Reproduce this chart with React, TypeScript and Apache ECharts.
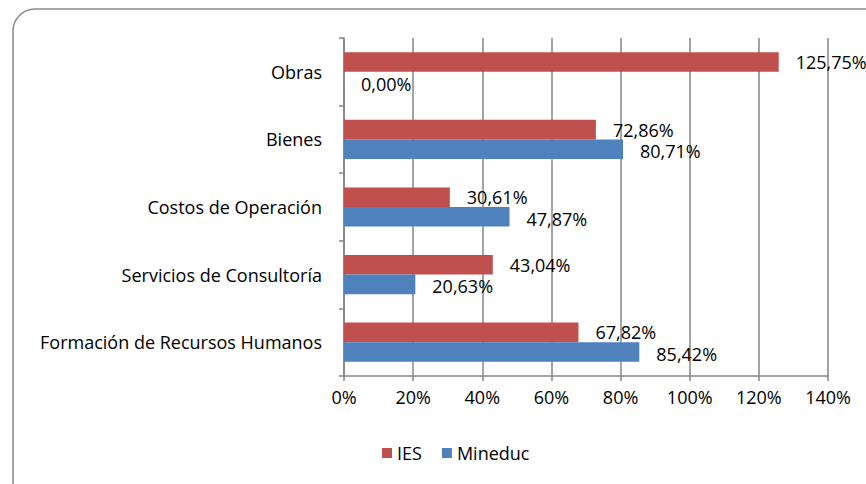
import React, { useEffect, useRef } from "react";
import * as echarts from "echarts";

const categories = [
  "Formación de Recursos Humanos",
  "Servicios de Consultoría",
  "Costos de Operación",
  "Bienes",
  "Obras",
];
const iesValues = [67.82, 43.04, 30.61, 72.86, 125.75];
const mineducValues = [85.42, 20.63, 47.87, 80.71, 0.0];
const xTicks = [0, 20, 40, 60, 80, 100, 120, 140];

const FONT = "Open Sans";
const FS = 18;
const fmt = (v: number) => v.toFixed(2).replace(".", ",") + "%";

export default function App() {
  const ref = useRef<HTMLDivElement>(null);
  useEffect(() => {
    if (!ref.current) return;
    const chart = echarts.init(ref.current, undefined, { renderer: "svg" });
    const labelCommon = {
      show: true,
      position: "right" as const,
      distance: 17,
      color: "#000",
      fontFamily: FONT,
      fontSize: FS,
      formatter: (p: any) => fmt(p.value),
    };
    chart.setOption({
      animation: false,
      backgroundColor: "#fff",
      textStyle: { fontFamily: FONT },
      graphic: [
        {
          type: "rect",
          shape: { x: 13, y: 9, width: 900, height: 520, r: 22 },
          style: { fill: "none", stroke: "#8a8a8a", lineWidth: 1.5 },
          silent: true,
          z: -1,
        },
      ],
      grid: { left: 344, right: 38, top: 38, bottom: 108, containLabel: false },
      legend: {
        data: ["IES", "Mineduc"],
        bottom: 17,
        left: 377,
        itemWidth: 10,
        itemHeight: 10,
        itemGap: 20,
        icon: "rect",
        textStyle: { fontFamily: FONT, fontSize: FS, color: "#000" },
      },
      xAxis: {
        type: "value",
        min: xTicks[0],
        max: xTicks[xTicks.length - 1],
        interval: 20,
        axisLine: { show: true, lineStyle: { color: "#868686", width: 1.5 } },
        axisTick: { show: true, length: 5, lineStyle: { color: "#868686", width: 1.5 } },
        splitLine: { show: true, lineStyle: { color: "#868686", width: 1.5 } },
        axisLabel: {
          formatter: (v: number) => v + "%",
          color: "#000",
          fontFamily: FONT,
          fontSize: FS,
          margin: 12,
        },
      },
      yAxis: {
        type: "category",
        data: categories,
        axisLine: { show: true, lineStyle: { color: "#868686", width: 1.5 } },
        axisTick: { show: true, length: 5, lineStyle: { color: "#868686", width: 1.5 } },
        axisLabel: { color: "#000", fontFamily: FONT, fontSize: FS, margin: 22 },
      },
      series: [
        {
          name: "IES",
          type: "bar",
          data: iesValues,
          itemStyle: { color: "#C0504D" },
          barGap: "0%",
          barCategoryGap: "42%",
          label: labelCommon,
        },
        {
          name: "Mineduc",
          type: "bar",
          data: mineducValues,
          itemStyle: { color: "#4F81BD" },
          barGap: "0%",
          barCategoryGap: "42%",
          label: { ...labelCommon, offset: [0, 2] },
        },
      ],
    });
    return () => chart.dispose();
  }, []);
  return (
    <div
      ref={ref}
      style={{ position: "fixed", left: 0, top: 0, width: 866, height: 484 }}
    />
  );
}
